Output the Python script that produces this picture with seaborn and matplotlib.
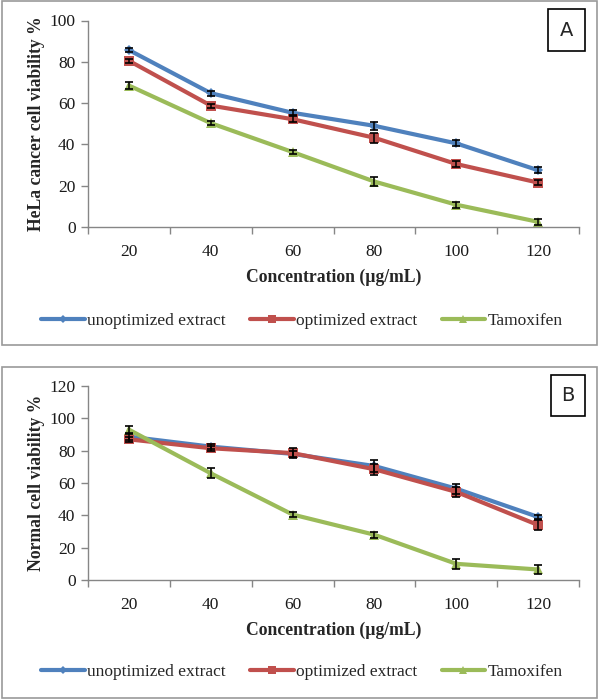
import matplotlib
matplotlib.use('Agg')
import matplotlib.pyplot as plt
from matplotlib.patches import Rectangle
from matplotlib.ticker import FixedLocator, NullFormatter
import numpy as np
import pandas as pd
import seaborn as sns

concentrations = ['20', '40', '60', '80', '100', '120']
groups = ['unoptimized extract', 'optimized extract', 'Tamoxifen']

hela_unopt = [85.7, 64.8, 55.3, 49.0, 40.5, 27.5]
hela_opt = [80.5, 58.8, 52.2, 43.2, 30.5, 21.5]
hela_tam = [68.5, 50.3, 36.3, 22.0, 10.8, 2.5]
hela_unopt_err = [1.0, 1.2, 1.2, 2.0, 1.5, 1.5]
hela_opt_err = [1.0, 1.0, 1.5, 2.5, 1.5, 1.2]
hela_tam_err = [1.5, 1.0, 1.0, 2.0, 1.5, 1.5]

normal_unopt = [88.7, 82.5, 78.0, 70.5, 56.5, 39.0]
normal_opt = [87.0, 81.5, 78.5, 68.5, 54.5, 34.0]
normal_tam = [93.0, 66.0, 40.5, 28.0, 10.0, 6.5]
normal_unopt_err = [2.0, 1.5, 2.0, 3.7, 3.0, 1.5]
normal_opt_err = [1.5, 1.5, 3.0, 3.5, 3.0, 3.0]
normal_tam_err = [2.5, 3.0, 1.5, 2.0, 3.0, 2.6]

colors = {'unoptimized extract': '#4F81BD', 'optimized extract': '#C0504D', 'Tamoxifen': '#9BBB59'}
markers = {'unoptimized extract': 'D', 'optimized extract': 's', 'Tamoxifen': '^'}
msizes = {'unoptimized extract': 5.5, 'optimized extract': 6.5, 'Tamoxifen': 7}

sns.set_style('white')
plt.rcParams['font.family'] = ['Liberation Serif', 'DejaVu Serif']

W, H = 600, 699
fig = plt.figure(figsize=(6, 6.99), dpi=100)


def px(x0, y0, x1, y1):
    # pixel box (top-left origin) -> figure fraction rect
    return [x0 / W, 1 - y1 / H, (x1 - x0) / W, (y1 - y0) / H]


def panel(rect, values, errors, ymax, ylabel, letter, box, frame, legend_y, xlab_y):
    ax = fig.add_axes(rect)
    df = pd.DataFrame({
        'conc': concentrations * 3,
        'viability': values[0] + values[1] + values[2],
        'group': np.repeat(groups, len(concentrations)),
    })
    sns.lineplot(data=df, x='conc', y='viability', hue='group', style='group',
                 hue_order=groups, style_order=groups, palette=colors,
                 markers=markers, dashes=False, linewidth=3, markeredgewidth=0,
                 ax=ax)
    for line, g in zip(ax.lines, groups):
        line.set_markersize(msizes[g])
    xs = np.arange(len(concentrations))
    for vals, errs in zip(values, errors):
        ax.errorbar(xs, vals, yerr=errs, fmt='none', ecolor='black',
                    elinewidth=1.1, capsize=3, capthick=1.2, zorder=5)

    ax.set_xlim(-0.5, len(concentrations) - 0.5)
    ax.set_ylim(0, ymax)
    ax.set_yticks(np.arange(0, ymax + 1, 20))
    ax.xaxis.set_major_locator(FixedLocator(np.arange(-0.5, len(concentrations), 1.0)))
    ax.xaxis.set_major_formatter(NullFormatter())
    ax.xaxis.set_minor_locator(FixedLocator(xs))
    ax.set_xticklabels(concentrations, minor=True)
    ax.tick_params(axis='x', which='major', direction='out', length=5, width=1,
                   color='#868686', bottom=True)
    ax.tick_params(axis='x', which='minor', length=0, pad=12, labelsize=12.5,
                   labelcolor='#1a1a1a')
    ax.tick_params(axis='y', direction='out', length=5, width=1, color='#868686',
                   left=True, pad=4, labelsize=12.5, labelcolor='#1a1a1a')
    for s in ['top', 'right']:
        ax.spines[s].set_visible(False)
    for s in ['left', 'bottom']:
        ax.spines[s].set_color('#868686')
        ax.spines[s].set_linewidth(1)

    ax.set_xlabel('Concentration (µg/mL)', fontsize=12.7, fontweight='bold')
    ax.xaxis.set_label_coords(0.5, xlab_y)
    ax.set_ylabel(ylabel, fontsize=12.7, fontweight='bold')
    ax.yaxis.set_label_coords(-0.088, 0.5)

    leg = ax.get_legend()
    handles = leg.legend_handles
    labels = [t.get_text() for t in leg.get_texts()]
    for h, g in zip(handles, groups):
        h.set_linewidth(3)
        h.set_markersize(msizes[g] - 1)
        h.set_markeredgewidth(0)
    ax.legend(handles, labels, loc='center', ncol=3, frameon=False,
              bbox_to_anchor=(302 / W, 1 - legend_y / H), bbox_transform=fig.transFigure,
              fontsize=12.5, handlelength=2.5, handletextpad=0.15, columnspacing=1.4)

    fig.patches.append(Rectangle(frame[:2], frame[2], frame[3], transform=fig.transFigure,
                                 fill=False, edgecolor='#9a9a9a', linewidth=1.2))
    fig.patches.append(Rectangle(box[:2], box[2], box[3], transform=fig.transFigure,
                                 fill=False, edgecolor='black', linewidth=1.2))
    fig.text(box[0] + box[2] / 2, box[1] + box[3] / 2, letter, ha='center', va='center',
             fontsize=14, family='DejaVu Sans')
    return ax


panel(px(88, 20.5, 579, 227), [hela_unopt, hela_opt, hela_tam],
      [hela_unopt_err, hela_opt_err, hela_tam_err], 100, 'HeLa cancer cell viability %',
      'A', px(548, 9, 585, 51), px(2, 1, 597, 345), 321, -0.2)

panel(px(88, 386, 579, 580), [normal_unopt, normal_opt, normal_tam],
      [normal_unopt_err, normal_opt_err, normal_tam_err], 120, 'Normal cell viability %',
      'B', px(551, 375, 585, 416), px(2, 367, 597, 698), 672, -0.215)

fig.savefig('out.png', dpi=100)
plt.close(fig)
